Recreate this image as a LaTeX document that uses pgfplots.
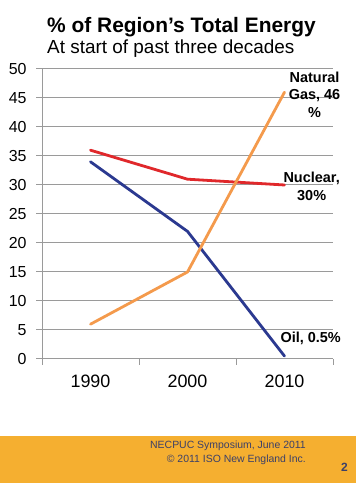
\documentclass[border=0pt]{standalone}
\usepackage{pgfplots}
\pgfplotsset{compat=1.18}
\usepackage{fontspec}
\setmainfont{Liberation Sans}
\definecolor{oilblue}{HTML}{2B3990}
\definecolor{nucred}{HTML}{E0282B}
\definecolor{gasorange}{HTML}{F49A4C}
\definecolor{footorange}{HTML}{F5AF30}
\definecolor{foottext}{HTML}{3C4068}
\definecolor{gridgray}{HTML}{9A9A9A}
\begin{document}
\begin{tikzpicture}[x=1bp,y=1bp]
\path[use as bounding box] (0,0) rectangle (356,486);
\fill[white] (0,0) rectangle (356,486);
\fill[footorange] (0,3) rectangle (356,50);
\node[anchor=base west, inner sep=0pt, font=\fontsize{21}{25}\selectfont\bfseries] at (47,453) {\% of Region’s Total Energy};
\node[anchor=base west, inner sep=0pt, font=\fontsize{19}{23}\selectfont] at (47,432) {At start of past three decades};
\node[anchor=base east, inner sep=0pt, text=foottext, font=\fontsize{10.5}{12}\selectfont] at (306,37) {NECPUC Symposium, June 2011};
\node[anchor=base east, inner sep=0pt, text=foottext, font=\fontsize{10.5}{12}\selectfont] at (306,23) {© 2011 ISO New England Inc.};
\node[anchor=base east, inner sep=0pt, text=foottext, font=\fontsize{12}{14}\selectfont\bfseries] at (348,14) {2};
\begin{axis}[
  at={(42bp,127bp)}, anchor=south west,
  scale only axis, width=291bp, height=290bp,
  xmin=-0.5, xmax=2.5, ymin=0, ymax=50,
  axis x line=bottom, axis y line=left,
  axis line style={draw=gridgray, line width=1pt, -},
  xtick={-0.5,0.5,1.5,2.5},
  xticklabels={1990,2000,2010},
  x tick label as interval,
  ytick={0,5,...,50},
  tick align=outside,
  major tick length=6bp,
  tick style={draw=gridgray, line width=1pt},
  ymajorgrids,
  grid style={draw=gridgray, line width=1pt},
  /pgf/number format/assume math mode=true,
  yticklabel style={font=\fontsize{16}{18}\selectfont, xshift=-6bp},
  xticklabel style={font=\fontsize{18}{20}\selectfont, yshift=-6bp},
  clip=false,
  every axis plot/.append style={line width=2.8bp, line join=round, line cap=round},
]
\addplot[oilblue] coordinates {(0,34) (1,22) (2,0.5)};
\addplot[nucred] coordinates {(0,36) (1,31) (2,30)};
\addplot[gasorange] coordinates {(0,6) (1,15) (2,46)};
\node[font=\fontsize{14.5}{17.5}\selectfont\bfseries, align=center] at (axis cs:2.31,45.6) {Natural\\Gas, 46\\\%};
\node[font=\fontsize{14.5}{17.5}\selectfont\bfseries, align=center] at (axis cs:2.28,29.8) {Nuclear,\\30\%};
\node[font=\fontsize{14.5}{17.5}\selectfont\bfseries, align=center] at (axis cs:2.27,3.5) {Oil, 0.5\%};
\end{axis}
\end{tikzpicture}
\end{document}
